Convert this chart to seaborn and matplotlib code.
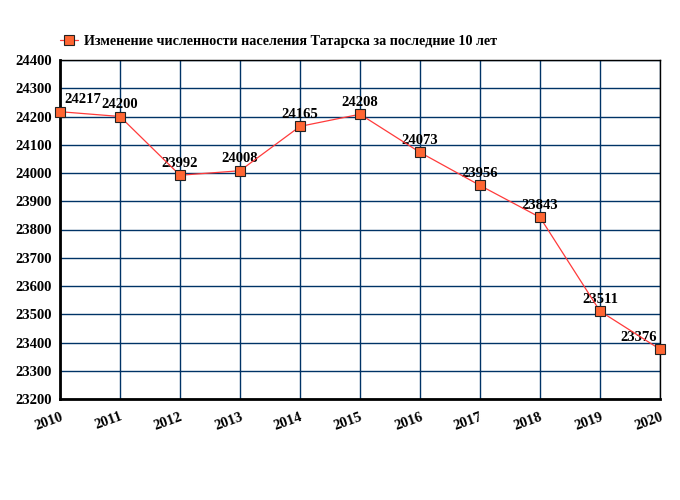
import matplotlib
matplotlib.use("Agg")
import matplotlib.pyplot as plt
import seaborn as sns
import pandas as pd

years = [2010, 2011, 2012, 2013, 2014, 2015, 2016, 2017, 2018, 2019, 2020]
population = [24217, 24200, 23992, 24008, 24165, 24208, 24073, 23956, 23843, 23511, 23376]
series_label = "Изменение численности населения Татарска за последние 10 лет"
yticks = list(range(23200, 24401, 100))

df = pd.DataFrame({"year": years, "pop": population})

sns.set_style("white")
plt.rcParams['font.family'] = ['Liberation Serif', 'DejaVu Serif']
plt.rcParams['font.weight'] = 'bold'
plt.rcParams['text.color'] = 'black'
plt.rcParams['xtick.color'] = 'black'
plt.rcParams['ytick.color'] = 'black'

fig = plt.figure(figsize=(6.8, 5.0), dpi=100)
ax = fig.add_axes([60/680, 1-399/500, 600/680, 339/500])

sns.lineplot(data=df, x="year", y="pop", ax=ax, color="#ff3b3b", linewidth=0.9,
             marker="s", markersize=7, markerfacecolor="#ff6633",
             markeredgecolor="#222222", markeredgewidth=0.8, label=series_label,
             clip_on=False, zorder=5)

ax.set_xlim(2010, 2020)
ax.set_ylim(23200, 24400)
ax.set_xticks(years)
ax.set_yticks(yticks)
ax.set_xticklabels([str(y) for y in years], rotation=20, fontsize=10.5, fontweight='bold',
                   ha='right', rotation_mode='anchor')
ax.set_yticklabels([str(v) for v in yticks], fontsize=10.5, fontweight='bold')
ax.set_xlabel("")
ax.set_ylabel("")
ax.grid(True, color="#003366", linewidth=1.0)
ax.set_axisbelow(True)
for s in ["top", "right"]:
    ax.spines[s].set_color("black")
    ax.spines[s].set_linewidth(1.0)
for s in ["left", "bottom"]:
    ax.spines[s].set_color("black")
    ax.spines[s].set_linewidth(2.0)
ax.tick_params(axis="both", length=4, width=1, color="black", labelcolor="black",
               direction="out", pad=2)
ax.tick_params(axis="x", pad=4)

for i, (x, y) in enumerate(zip(years, population)):
    if i == 0:
        ax.annotate(str(y), (x, y), xytext=(3, 4), textcoords="offset points",
                    ha="left", va="bottom", fontsize=10.5, fontweight='bold', color='black')
    elif i == len(years) - 1:
        ax.annotate(str(y), (x, y), xytext=(-2, 4), textcoords="offset points",
                    ha="right", va="bottom", fontsize=10.5, fontweight='bold', color='black')
    else:
        ax.annotate(str(y), (x, y), xytext=(0, 4), textcoords="offset points",
                    ha="center", va="bottom", fontsize=10.5, fontweight='bold', color='black')

leg = ax.legend(loc="lower left", bbox_to_anchor=(0.0, 1.035), frameon=False,
                fontsize=10.2, handlelength=1.3, borderaxespad=0, handletextpad=0.4,
                borderpad=0)
for t in leg.get_texts():
    t.set_fontweight('bold')
    t.set_color('black')

fig.savefig("out.png", dpi=100)
